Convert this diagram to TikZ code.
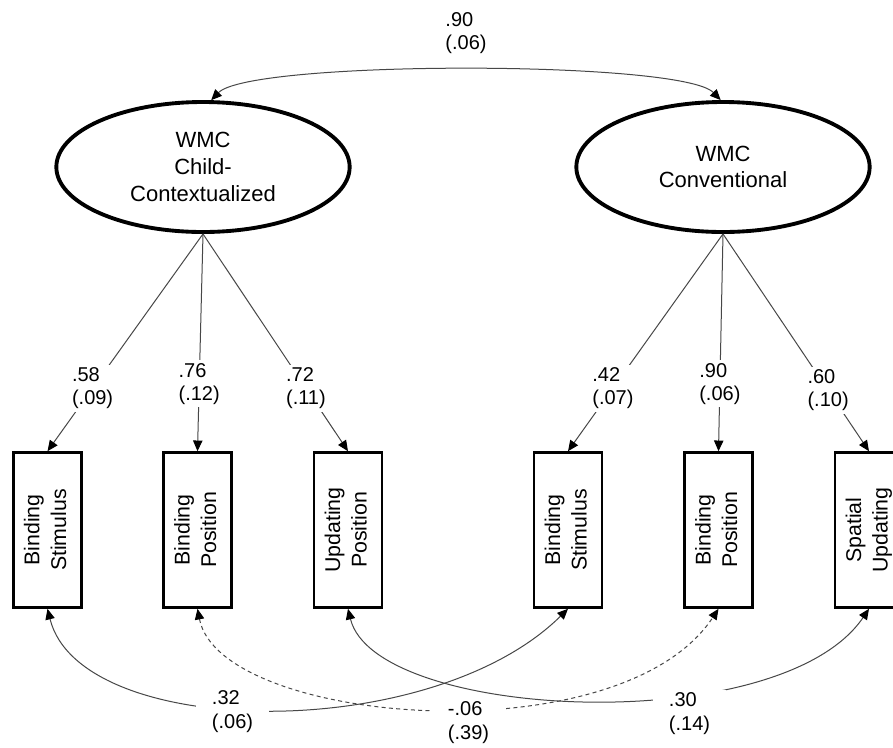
\documentclass[tikz,border=0pt]{standalone}
\usepackage{fontspec}
\setmainfont{Liberation Sans}
\usepackage{graphicx}
\usetikzlibrary{shapes.geometric,arrows.meta}
\newcommand{\rottwo}[2]{\rotatebox{90}{\begin{tabular}{@{}c@{}}#1\\#2\end{tabular}}}
\begin{document}
\begin{tikzpicture}[x=0.75pt,y=-0.75pt,
  latent/.style={ellipse,draw,line width=2.9pt,minimum width=220pt,minimum height=97.5pt,inner sep=0pt,align=center,font=\fontsize{16.5}{20}\selectfont},
  obs/.style={rectangle,draw,line width=2.2pt,minimum width=51pt,minimum height=116pt,inner sep=0pt,font=\fontsize{16}{20}\selectfont},
  tip/.style={Triangle[length=8pt,width=7pt,color=black]},
  conn/.style={line width=0.75pt,draw=black!72,-{Triangle[length=8pt,width=7pt,color=black]}},
  cov/.style={line width=0.75pt,draw=black!72,{Triangle[length=8pt,width=7pt,color=black]}-{Triangle[length=8pt,width=7pt,color=black]}},
  lbl/.style={fill=white,align=left,inner xsep=1pt,inner ysep=2pt,font=\fontsize{15}{17.5}\selectfont},
  clbl/.style={lbl,inner xsep=12pt},
]
\fill[white] (0,0) rectangle (893,747);
\useasboundingbox (0,0) rectangle (893,747);
% latent variables
\node[latent] (e1) at (203,167) {WMC\\Child-\\Contextualized};
\node[latent] (e2) at (723,167) {WMC\\Conventional};
% indicators
\node[obs] (b1) at (47.5,530) {\rottwo{Binding}{Stimulus}};
\node[obs] (b2) at (197.5,530) {\rottwo{Binding}{Position}};
\node[obs] (b3) at (348,530) {\rottwo{Updating}{Position}};
\node[obs] (b4) at (568,530) {\rottwo{Binding}{Stimulus}};
\node[obs] (b5) at (718.5,530) {\rottwo{Binding}{Position}};
\node[obs] (b6) at (869,530) {\rottwo{Spatial}{Updating}};
% loadings
\draw[conn] (e1.south) -- node[lbl,pos=.71] (l58) {.58\\(.09)} (b1.north);
\draw[conn] (e1.south) -- node[lbl,pos=.69] (l76) {.76\\(.12)} (b2.north);
\draw[conn] (e1.south) -- node[lbl,pos=.71] (l72) {.72\\(.11)} (b3.north);
\draw[conn] (e2.south) -- node[lbl,pos=.71] (l42) {.42\\(.07)} (b4.north);
\draw[conn] (e2.south) -- node[lbl,pos=.69] (l90b) {.90\\(.06)} (b5.north);
\draw[conn] (e2.south) -- node[lbl,pos=.72] (l60) {.60\\(.10)} (b6.north);
% latent covariance
\draw[cov] (e1.83) .. controls (250,60) and (682,60) .. (e2.92);
\node[lbl] (l90) at (466,33) {.90\\(.06)};
% residual covariances
\draw[cov] (b1.south) .. controls (80,740) and (430,745) .. (b4.south);
\draw[cov,dash pattern=on 3pt off 2.5pt] (b2.south) .. controls (220,725) and (620,758) .. (b5.south);
\draw[cov] (b3.south) .. controls (375,720) and (780,740) .. (b6.south);
\node[clbl] (l32) at (232.5,711.5) {.32\\(.06)};
\node[clbl] (l06) at (468.5,722.5) {-.06\\(.39)};
\node[clbl] (l30) at (689.5,713.5) {.30\\(.14)};
\end{tikzpicture}
\end{document}
